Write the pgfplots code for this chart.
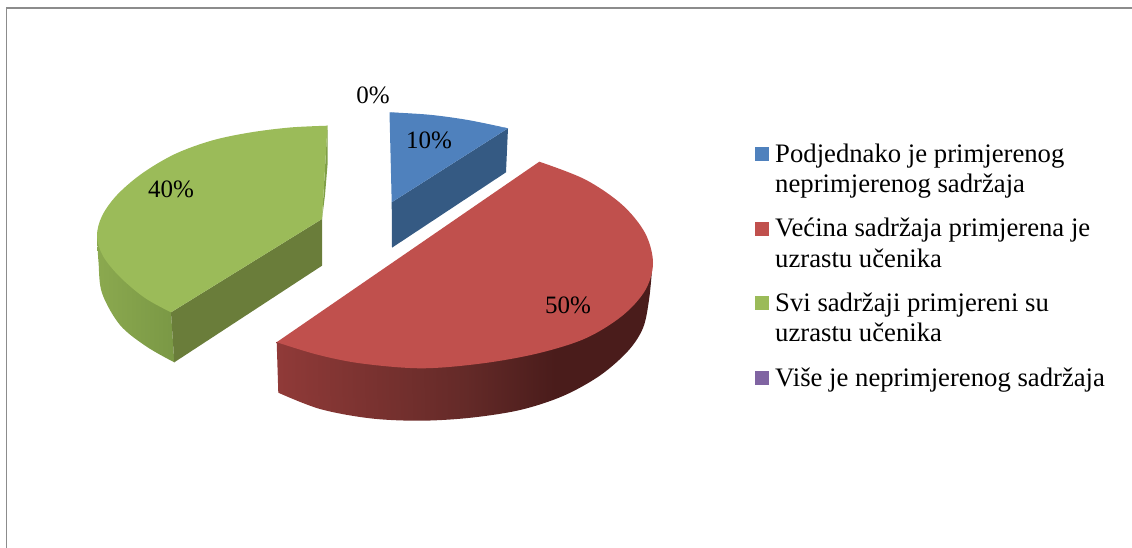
\documentclass[border=0pt]{standalone}
\usepackage{fontspec}
\setmainfont{Liberation Serif}
\usepackage{pgfplots}
\pgfplotsset{compat=1.18}
\definecolor{bluetop}{HTML}{4F81BD}
\definecolor{bluedark}{HTML}{355A83}
\definecolor{redtop}{HTML}{C0504D}
\definecolor{greentop}{HTML}{9BBB59}
\definecolor{greendark}{HTML}{6A7D3A}
\definecolor{greensliver}{HTML}{7F9F46}
\definecolor{purplekey}{HTML}{8064A2}
\definecolor{frameg}{HTML}{8C8C8C}
\definecolor{rs1}{HTML}{903A38}
\definecolor{rs2}{HTML}{642A28}
\definecolor{rs3}{HTML}{4A1C1B}
\definecolor{gs1}{HTML}{8BA94F}
\definecolor{gs2}{HTML}{7A9845}
\pgfdeclarehorizontalshading{redside}{100bp}{color(0bp)=(rs1); color(25bp)=(rs1); color(50bp)=(rs2); color(62bp)=(rs3); color(100bp)=(rs3)}
\pgfdeclarehorizontalshading{greenside}{100bp}{color(0bp)=(gs1); color(25bp)=(gs1); color(75bp)=(gs2); color(100bp)=(gs2)}
\begin{document}
\begin{tikzpicture}
\begin{axis}[
  width=1132pt,height=548pt,scale only axis,
  xmin=0,xmax=1132,ymin=0,ymax=548,y dir=reverse,hide axis,
  every axis plot/.append style={draw=none},
]
\path (axis cs:0,0) (axis cs:1132,548);
% frame
\addplot[draw=frameg,line width=1.6pt,no marks] coordinates {(6.5,548)(6.5,8)(1132,8)};
% green slice: side
\addplot[shading=greenside,smooth,tension=0.55] coordinates {(97,236)(98.5,262)(102,293)(120,325)(146.7,346.7)(174.3,362.3)};
\addplot[shading=greenside] coordinates {(97,236)(105,300)(174.3,362.3)(171,312.3)} -- cycle;
\addplot[fill=greendark] coordinates {(171,312.3)(322,219)(322,265.7)(174.3,362.3)} -- cycle;
\addplot[fill=greensliver] coordinates {(327.5,125.7)(327.5,165)(325,195)(322,219)} -- cycle;
\addplot[fill=greentop,smooth,tension=0.55] coordinates {(327.5,125.7)(290,127.5)(250,132.5)(212,140.5)(175,154)(142,173.5)(117,195)(102,216)(97,236)(103,256)(120,277)(145,298)(171,312.3)};
\addplot[fill=greentop] coordinates {(327.5,125.7)(200,200)(171,312.3)(322,219)} -- cycle;
% blue slice
\addplot[fill=bluedark] coordinates {(508,128.3)(391.7,202.3)(392,247.7)(506,172.3)} -- cycle;
\addplot[fill=bluetop,smooth,tension=0.55] coordinates {(389.5,112.3)(430,114.8)(469,120.2)(508,128.3)};
\addplot[fill=bluetop] coordinates {(389.5,112.3)(430,115.5)(508,128.3)(391.7,202.3)} -- cycle;
% red slice
\addplot[shading=redside,smooth,tension=0.55] coordinates {(278.3,392.7)(320,409)(370,418.3)(420,420.7)(470,417.8)(520,410)(563,396)(600,375.5)(628,351)(643,328)(649,300)(652,270)};
\addplot[shading=redside] coordinates {(276.7,342.2)(278.3,392.7)(400,400)(652,270)} -- cycle;
\addplot[fill=redtop,smooth,tension=0.55] coordinates {(539.3,161.7)(585.2,179.5)(622,204.6)(645.1,233.1)(653,263)(645.1,290.5)(622,316)(585.2,338.5)(537.3,353.5)(481.4,363.5)(421.5,368.3)(361.6,363.5)(318,354.8)(276.7,342.2)};
% legend keys
\addplot[fill=bluetop] coordinates {(755,147.3)(769,147.3)(769,161.3)(755,161.3)} -- cycle;
\addplot[fill=redtop] coordinates {(755,221.7)(769,221.7)(769,235.7)(755,235.7)} -- cycle;
\addplot[fill=greentop] coordinates {(755,296)(769,296)(769,310)(755,310)} -- cycle;
\addplot[fill=purplekey] coordinates {(755,370.7)(769,370.7)(769,385)(755,385)} -- cycle;
% texts
\begin{scope}[every node/.style={font=\fontsize{25}{30}\selectfont,inner sep=0pt,text=black}]
\node at (axis cs:373,95) {0\%};
\node at (axis cs:429,140) {10\%};
\node at (axis cs:171,189) {40\%};
\node at (axis cs:568,305) {50\%};
\end{scope}
\begin{scope}[every node/.style={font=\fontsize{26.7}{30}\selectfont,inner sep=0pt,text=black,anchor=base west}]
\node at (axis cs:775,162.7) {Podjednako je primjerenog};
\node at (axis cs:775,192.7) {neprimjerenog sadržaja};
\node at (axis cs:775,236.7) {Većina sadržaja primjerena je};
\node at (axis cs:775,267.3) {uzrastu učenika};
\node at (axis cs:775,311.7) {Svi sadržaji primjereni su};
\node at (axis cs:775,341.7) {uzrastu učenika};
\node at (axis cs:775,386) {Više je neprimjerenog sadržaja};
\end{scope}
\end{axis}
\end{tikzpicture}
\end{document}
